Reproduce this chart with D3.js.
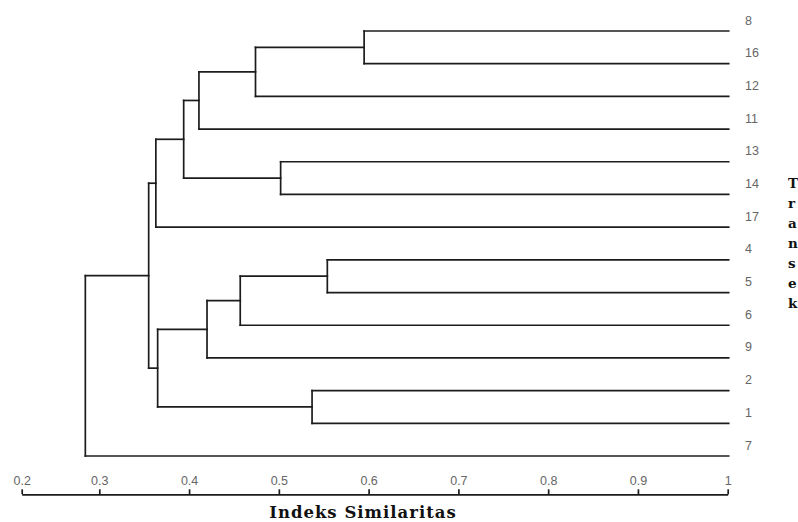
<!DOCTYPE html>
<html>
<head>
<meta charset="utf-8">
<script src="https://cdn.jsdelivr.net/npm/d3@7"></script>
<style>
  html, body { margin: 0; padding: 0; background: #ffffff; }
  svg { display: block; }
</style>
</head>
<body>
<svg id="chart" width="798" height="522"></svg>
<script>
// ---- data ----
const leafLabels = ["8","16","12","11","13","14","17","4","5","6","9","2","1","7"];
// merges: left child, right child, similarity at which they join
const mergeIds    = ["m0","m1","m2","m3","m4","m5","m6","m7","m8","m9","m10","m11","m12"];
const mergeLeft   = ["8","m0","m1","13","m2","m4","4","m6","m7","2","m8","m5","m11"];
const mergeRight  = ["16","12","11","14","m3","17","5","6","9","1","m9","m10","7"];
const mergeSim    = [0.595,0.474,0.411,0.502,0.394,0.363,0.554,0.457,0.420,0.537,0.365,0.355,0.282];
const tickValues  = [0.2,0.3,0.4,0.5,0.6,0.7,0.8,0.9,1];
const tickLabels  = ["0.2","0.3","0.4","0.5","0.6","0.7","0.8","0.9","1"];
const axisTitle   = "Indeks Similaritas";
const sideLetters = ["T","r","a","n","s","e","k"];

// ---- scales ----
const svg = d3.select("#chart");
const x = d3.scaleLinear().domain([0.2, 0.3, 1]).range([21.7, 99.3, 727.7]);
const y = d3.scalePoint().domain(leafLabels).range([31, 456]);

// ---- compute node positions ----
const nodes = {};
leafLabels.forEach(l => { nodes[l] = { id: l, x: x(1) + 1, y: y(l) }; });
mergeIds.forEach((id, i) => {
  const a = nodes[mergeLeft[i]], b = nodes[mergeRight[i]];
  nodes[id] = { id, x: x(mergeSim[i]), y: (a.y + b.y) / 2, children: [a, b] };
  a.parent = nodes[id]; b.parent = nodes[id];
});

const g = svg.append("g")
  .attr("fill", "none")
  .attr("stroke", "#1c1c1c")
  .attr("stroke-width", 1.7)
  .attr("stroke-linecap", "square");

const allNodes = Object.values(nodes);
// horizontal segments: node to its parent
g.selectAll("line.h")
  .data(allNodes.filter(n => n.parent))
  .join("line")
  .attr("class", "h")
  .attr("x1", d => d.x).attr("x2", d => d.parent.x)
  .attr("y1", d => d.y).attr("y2", d => d.y);
// vertical segments at merges
g.selectAll("line.v")
  .data(allNodes.filter(n => n.children))
  .join("line")
  .attr("class", "v")
  .attr("x1", d => d.x).attr("x2", d => d.x)
  .attr("y1", d => d.children[0].y).attr("y2", d => d.children[1].y);

// ---- leaf labels ----
svg.append("g").selectAll("text")
  .data(leafLabels)
  .join("text")
  .attr("x", 745)
  .attr("y", d => y(d) - 6.5)
  .attr("font-family", "Liberation Sans, Arial, sans-serif")
  .attr("font-size", 12.5)
  .attr("fill", "#666")
  .text(d => d);

// ---- axis ----
const axis = d3.axisTop(x)
  .tickValues(tickValues)
  .tickFormat((d, i) => tickLabels[i])
  .tickSizeInner(5)
  .tickSizeOuter(0)
  .tickPadding(4.3);

const ax = svg.append("g")
  .attr("transform", "translate(0,494.3)")
  .call(axis);
ax.select(".domain").attr("stroke", "#1c1c1c").attr("stroke-width", 1.7);
ax.selectAll(".tick line").attr("stroke", "#1c1c1c").attr("stroke-width", 1.7);
ax.selectAll(".tick text")
  .attr("font-family", "Liberation Sans, Arial, sans-serif")
  .attr("font-size", 12.5)
  .attr("fill", "#666");

// ---- axis title ----
svg.append("text")
  .attr("x", 363)
  .attr("y", 517.5)
  .attr("text-anchor", "middle")
  .attr("font-family", "DejaVu Serif, serif")
  .attr("font-weight", "bold")
  .attr("font-size", 16.5)
  .attr("letter-spacing", 1)
  .attr("fill", "#111")
  .text(axisTitle);

// ---- clipped side text ----
svg.append("g").selectAll("text")
  .data(sideLetters)
  .join("text")
  .attr("x", 788)
  .attr("y", (d, i) => 188 + i * 20)
  .attr("font-family", "DejaVu Serif, serif")
  .attr("font-weight", "bold")
  .attr("font-size", 13.5)
  .attr("fill", "#111")
  .text(d => d);
</script>
</body>
</html>
